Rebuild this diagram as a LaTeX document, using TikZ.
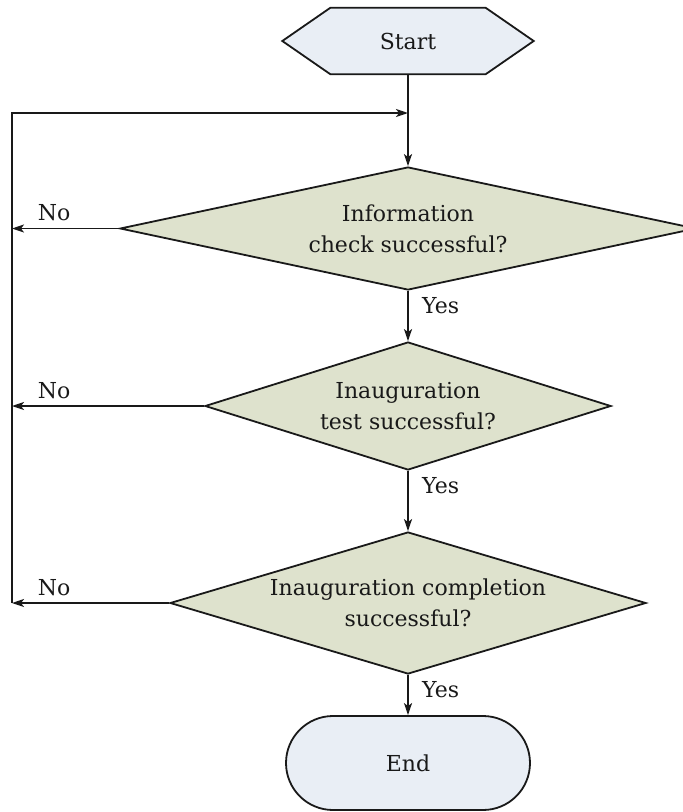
\documentclass[tikz,border=0pt]{standalone}
\usepackage{fontspec}
\setmainfont{DejaVu Serif}
\usetikzlibrary{arrows.meta,shapes.geometric,calc}
\definecolor{startfill}{RGB}{233,238,245}
\definecolor{decfill}{RGB}{222,226,205}
\definecolor{ink}{RGB}{25,25,25}
\begin{document}
\begin{tikzpicture}[x=1pt,y=-1pt,
  line/.style={line width=1.8pt, draw=ink},
  arr/.style={line, -{Stealth[length=12pt,width=8pt,inset=3pt]}},
  dec/.style={diamond, line, fill=decfill, inner sep=0pt},
  term/.style={line, fill=startfill},
  lbl/.style={font=\fontsize{22}{31}\selectfont, align=center, text=ink},
  tag/.style={lbl, inner sep=0pt}
]
\useasboundingbox (0,0) rectangle (683,812);

% Start (hexagon)
\node[minimum width=155, minimum height=66, inner sep=0pt] (start) at (408,41) {};
\draw[term] (start.north west) -- (start.north east) -- ($(start.east)+(48,0)$)
  -- (start.south east) -- (start.south west) -- ($(start.west)+(-48,0)$) -- cycle;
\node[lbl] at (start) {Start};

% Decisions
\node[dec, minimum width=576, minimum height=123] (d1) at (408,228.5) {};
\node[lbl] at (d1) {Information\\check successful?};
\node[dec, minimum width=406, minimum height=128] (d2) at (408,406) {};
\node[lbl] at (d2) {Inauguration\\test successful?};
\node[dec, minimum width=476, minimum height=142] (d3) at (408,603) {};
\node[lbl] at (d3) {Inauguration completion\\successful?};

% End
\node[term, draw, rounded corners=47, minimum width=244, minimum height=94] (end) at (408,763) {};
\node[lbl] at (end) {End};

% Loop coordinates
\coordinate (lb) at (12,603);
\coordinate (lt) at (12,113);
\coordinate (jn) at (408,113);

% Main flow
\draw[arr] (start.south) -- (d1.north);
\draw[arr] (d1.south) -- (d2.north);
\draw[arr] (d2.south) -- (d3.north);
\draw[arr] (d3.south) -- (end.north);

% No branches
\draw[arr] (d1.west) -- (d1.west -| lb);
\draw[arr] (d2.west) -- (d2.west -| lb);
\draw[arr] (d3.west) -- (lb);
\draw[arr] (lb) -- (lt) -- (jn);

% Labels
\node[tag, anchor=base] at ($(d1.west -| lb)+(42,-8)$) {No};
\node[tag, anchor=base] at ($(d2.west -| lb)+(42,-8)$) {No};
\node[tag, anchor=base] at ($(d3.west -| lb)+(42,-8)$) {No};
\node[tag, anchor=base west] at ($(d1.south)+(14,23)$) {Yes};
\node[tag, anchor=base west] at ($(d2.south)+(14,23)$) {Yes};
\node[tag, anchor=base west] at ($(d3.south)+(14,23)$) {Yes};
\end{tikzpicture}
\end{document}
